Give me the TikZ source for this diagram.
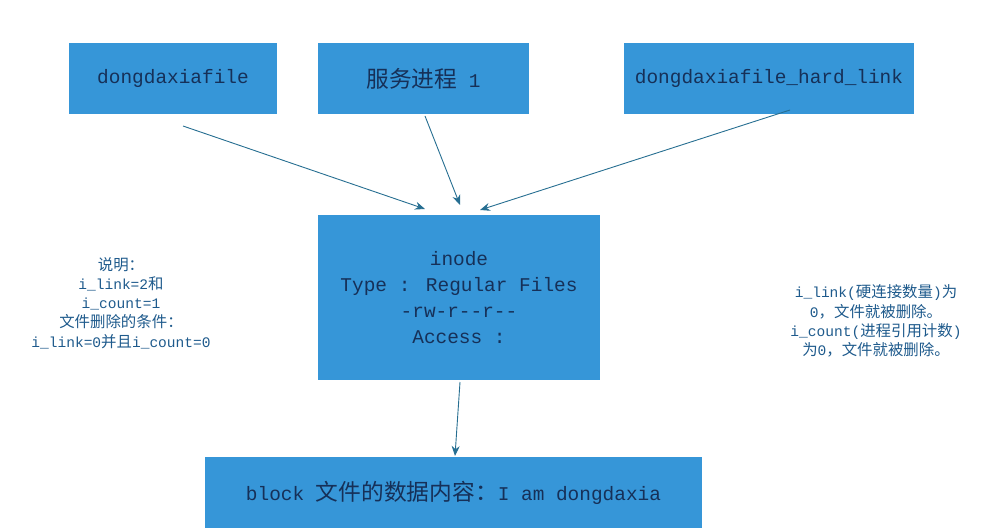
\documentclass[tikz,border=0pt]{standalone}
\usepackage{fontspec}
\setmainfont{Liberation Mono}
\newfontfamily\cjk[Scale=1.17]{Noto Sans CJK SC}
\newfontfamily\cjknote[Scale=1.06]{Noto Sans CJK SC}
\definecolor{boxblue}{RGB}{54,150,216}
\definecolor{boxtext}{RGB}{22,48,88}
\definecolor{notetext}{RGB}{30,90,140}
\definecolor{linkline}{RGB}{38,110,145}
\usetikzlibrary{arrows.meta}
\usetikzlibrary{positioning}
\tikzstyle{base}=[x=1bp, y=-1bp, inner sep=0pt, outer sep=0pt]
\tikzstyle{filebox}=[fill=boxblue, text=boxtext, align=center, font=\fontsize{19.5}{26}\selectfont]
\tikzstyle{note}=[text=notetext, align=center, font=\fontsize{14.6}{19.3}\selectfont]
\tikzstyle{link}=[draw=linkline, line width=0.9bp, -{Stealth[length=10bp,width=8bp]}]

\begin{document}
\begin{tikzpicture}[base]
    \path [use as bounding box] (0,0) rectangle (984,530);
    % top row
    \node [filebox, minimum width=208bp, minimum height=71bp] (file) at (173,78.5) {dongdaxiafile};
    \node [filebox, minimum width=211bp, minimum height=71bp] (proc) at (423.5,78.5) {{\cjk 服务进程} 1};
    \node [filebox, minimum width=290bp, minimum height=71bp] (hard) at (769,78.5) {dongdaxiafile\_hard\_link};
    % inode and block
    \node [filebox, minimum width=282bp, minimum height=165bp] (inode) at (459,297.5)
        {inode\\Type : Regular Files\\-rw-r-{}-r-{}-\\Access :};
    \node [filebox, minimum width=497bp, minimum height=71bp] (block) at (453.5,492.5)
        {block {\cjk 文件的数据内容：}I am dongdaxia};
    % notes
    \node [note] (left) at (121,303)
        {{\cjknote 说明：}\\i\_link=2{\cjknote 和}\\i\_count=1\\{\cjknote 文件删除的条件：}\\i\_link=0{\cjknote 并且}i\_count=0};
    \node [note] (right) at (876,321)
        {i\_link({\cjknote 硬连接数量}){\cjknote 为}\\0{\cjknote ，文件就被删除。}\\i\_count({\cjknote 进程引用计数})\\{\cjknote 为}0{\cjknote ，文件就被删除。}};
    % links
    \draw [link] ([xshift=10bp,yshift=-12bp]file.south) -- ([xshift=-34bp,yshift=6bp]inode.north);
    \draw [link] ([xshift=1.5bp,yshift=-2bp]proc.south) -- ([xshift=1bp,yshift=10bp]inode.north);
    \draw [link] ([xshift=21bp,yshift=4bp]hard.south) -- ([xshift=21bp,yshift=5bp]inode.north);
    \draw [link] ([xshift=1bp,yshift=-2bp]inode.south) -- ([xshift=1.5bp,yshift=1bp]block.north);
\end{tikzpicture}
\end{document}
